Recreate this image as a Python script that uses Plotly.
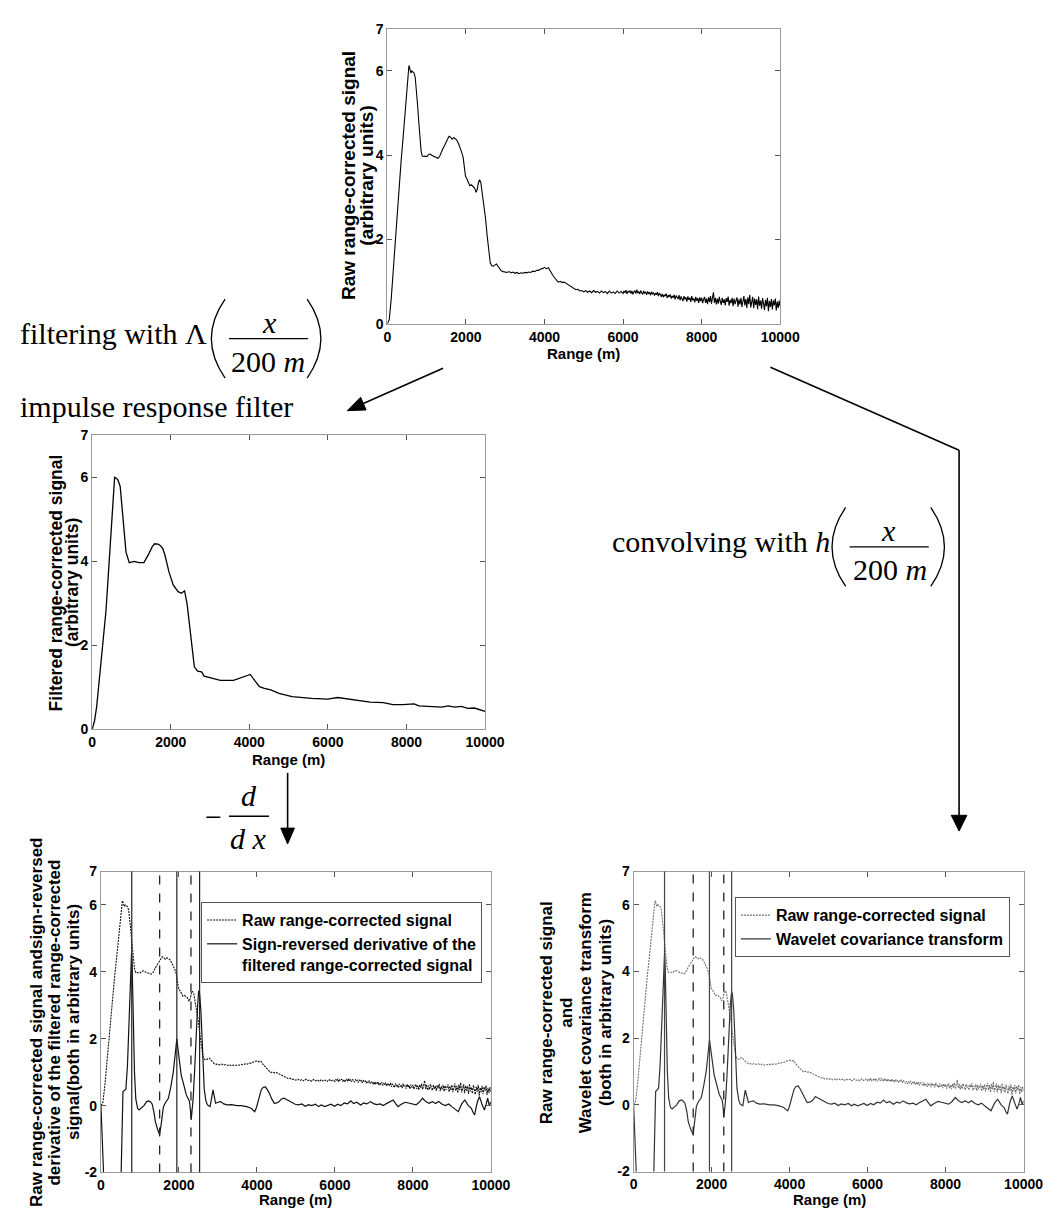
import plotly.graph_objects as go

# ---------------- data ----------------
range_ticks = [0, 2000, 4000, 6000, 8000, 10000]
range_tick_labels = ["0", "2000", "4000", "6000", "8000", "10000"]
y_ticks_top = [0, 2, 4, 6, 7]
y_tick_labels_top = ["0", "2", "4", "6", "7"]
y_ticks_bottom = [-2, 0, 2, 4, 6, 7]
y_tick_labels_bottom = ["-2", "0", "2", "4", "6", "7"]

raw_range = [
    0, 50, 100, 150, 200, 250, 300, 350, 400, 450,
    500, 530, 550, 575, 600, 625, 650, 680, 710, 740,
    770, 800, 830, 860, 890, 930, 970, 1010, 1050, 1090,
    1130, 1170, 1210, 1250, 1290, 1330, 1370, 1410, 1450, 1490,
    1530, 1570, 1610, 1650, 1690, 1730, 1770, 1810, 1850, 1890,
    1930, 1960, 1990, 2020, 2060, 2100, 2140, 2180, 2220, 2260,
    2290, 2320, 2350, 2380, 2420, 2460, 2500, 2540, 2580, 2620,
    2660, 2700, 2740, 2780, 2820, 2860, 2900, 2950, 3000, 3050,
    3100, 3150, 3200, 3250, 3300, 3350, 3400, 3450, 3500, 3550,
    3600, 3650, 3700, 3750, 3800, 3850, 3900, 3950, 4000, 4050,
    4100, 4150, 4200, 4250, 4300, 4350, 4400, 4450, 4500, 4550,
    4600, 4650, 4700, 4750, 4800, 4850, 4900, 4950, 5000, 5050,
    5100, 5150, 5200, 5250, 5300, 5350, 5400, 5450, 5500, 5550,
    5600, 5650, 5700, 5750, 5800, 5850, 5900, 5950,
    6000, 6025, 6050, 6075, 6100, 6125, 6150, 6175,
    6200, 6225, 6250, 6275, 6300, 6325, 6350, 6375,
    6400, 6425, 6450, 6475, 6500, 6525, 6550, 6575,
    6600, 6625, 6650, 6675, 6700, 6725, 6750, 6775,
    6800, 6825, 6850, 6875, 6900, 6925, 6950, 6975,
    7000, 7025, 7050, 7075, 7100, 7125, 7150, 7175,
    7200, 7225, 7250, 7275, 7300, 7325, 7350, 7375,
    7400, 7425, 7450, 7475, 7500, 7525, 7550, 7575,
    7600, 7625, 7650, 7675, 7700, 7725, 7750, 7775,
    7800, 7825, 7850, 7875, 7900, 7925, 7950, 7975,
    8000, 8025, 8050, 8075, 8100, 8125, 8150, 8175,
    8200, 8225, 8250, 8275, 8300, 8325, 8350, 8375,
    8400, 8425, 8450, 8475, 8500, 8525, 8550, 8575,
    8600, 8625, 8650, 8675, 8700, 8725, 8750, 8775,
    8800, 8825, 8850, 8875, 8900, 8925, 8950, 8975,
    9000, 9025, 9050, 9075, 9100, 9125, 9150, 9175,
    9200, 9225, 9250, 9275, 9300, 9325, 9350, 9375,
    9400, 9425, 9450, 9475, 9500, 9525, 9550, 9575,
    9600, 9625, 9650, 9675, 9700, 9725, 9750, 9775,
    9800, 9825, 9850, 9875, 9900, 9925, 9950, 9975,
    10000,
]
raw_signal = [
    0.0, 0.1, 0.6, 1.3, 2.0, 2.6, 3.3, 3.85, 4.4, 4.95,
    5.6, 5.95, 6.13, 6.05, 5.95, 6.0, 5.97, 5.95, 5.85, 5.6,
    5.2, 4.8, 4.4, 4.1, 3.98, 3.97, 3.98, 3.97, 4.02, 4.03,
    4.0, 3.98, 3.97, 3.95, 3.93, 3.97, 4.08, 4.15, 4.22, 4.3,
    4.38, 4.45, 4.43, 4.38, 4.42, 4.4, 4.36, 4.28, 4.2, 4.08,
    3.95, 3.62, 3.5, 3.45, 3.35, 3.28, 3.3, 3.25, 3.22, 3.12,
    3.2, 3.36, 3.42, 3.35, 3.1, 2.85, 2.5, 2.1, 1.7, 1.45,
    1.38, 1.37, 1.4, 1.42, 1.36, 1.3, 1.26, 1.24, 1.23, 1.22,
    1.24, 1.21, 1.23, 1.20, 1.22, 1.19, 1.21, 1.20, 1.22, 1.21,
    1.23, 1.22, 1.25, 1.24, 1.27, 1.27, 1.30, 1.31, 1.34, 1.31,
    1.33, 1.24, 1.17, 1.10, 1.04, 0.99, 1.01, 0.98, 0.99, 0.96,
    0.92, 0.90, 0.86, 0.84, 0.81, 0.82, 0.78, 0.79, 0.76, 0.79,
    0.75, 0.78, 0.74, 0.79, 0.75, 0.77, 0.73, 0.78, 0.74, 0.77,
    0.72, 0.78, 0.73, 0.76, 0.72, 0.78, 0.73, 0.77,
    0.72, 0.78, 0.74, 0.80, 0.71, 0.77, 0.75, 0.79,
    0.72, 0.78, 0.70, 0.76, 0.79, 0.72, 0.81, 0.73,
    0.77, 0.71, 0.79, 0.74, 0.70, 0.78, 0.73, 0.76,
    0.69, 0.77, 0.72, 0.75, 0.68, 0.76, 0.71, 0.74,
    0.67, 0.73, 0.69, 0.75, 0.66, 0.72, 0.70, 0.64,
    0.71, 0.63, 0.69, 0.66, 0.72, 0.61, 0.68, 0.64,
    0.70, 0.60, 0.66, 0.62, 0.69, 0.58, 0.67, 0.63,
    0.59, 0.68, 0.56, 0.65, 0.61, 0.54, 0.66, 0.58,
    0.63, 0.53, 0.65, 0.57, 0.62, 0.52, 0.66, 0.56,
    0.60, 0.51, 0.64, 0.55, 0.61, 0.50, 0.63, 0.54,
    0.62, 0.49, 0.58, 0.64, 0.50, 0.60, 0.47, 0.63,
    0.52, 0.66, 0.48, 0.59, 0.75, 0.50, 0.62, 0.46,
    0.60, 0.48, 0.64, 0.53, 0.45, 0.62, 0.50, 0.58,
    0.44, 0.61, 0.52, 0.65, 0.43, 0.57, 0.49, 0.62,
    0.42, 0.60, 0.47, 0.55, 0.63, 0.41, 0.58, 0.46,
    0.62, 0.40, 0.55, 0.66, 0.44, 0.59, 0.38, 0.63,
    0.47, 0.69, 0.39, 0.56, 0.64, 0.37, 0.60, 0.45,
    0.58, 0.35, 0.65, 0.43, 0.55, 0.36, 0.61, 0.48,
    0.33, 0.57, 0.42, 0.62, 0.30, 0.54, 0.40, 0.59,
    0.34, 0.56, 0.44, 0.60, 0.32, 0.53, 0.38, 0.55,
    0.42,
]

filtered_range = [
    0, 60, 116, 200, 282, 350, 406, 450, 489, 530,
    572, 615, 655, 713, 779, 862, 944, 1069, 1193, 1317,
    1442, 1530, 1591, 1680, 1732, 1800, 1856, 1955, 2063, 2187,
    2270, 2353, 2419, 2477, 2535, 2601, 2684, 2784, 2850, 2974,
    3264, 3596, 3844, 4026, 4134, 4258, 4383, 4548, 4756, 5087,
    5584, 5998, 6247, 6413, 6744, 7075, 7407, 7655, 7904, 8194,
    8318, 8650, 8898, 9064, 9230, 9395, 9561, 9727, 9892, 10000,
]
filtered_signal = [
    0.0, 0.2, 0.55, 1.3, 2.03, 2.8, 3.6, 4.3, 4.93, 5.6,
    6.0, 5.98, 5.94, 5.79, 5.16, 4.22, 3.97, 4.0, 3.97, 3.97,
    4.18, 4.35, 4.42, 4.41, 4.38, 4.3, 4.14, 3.75, 3.44, 3.28,
    3.24, 3.30, 2.97, 2.5, 1.88, 1.49, 1.39, 1.37, 1.27, 1.24,
    1.17, 1.17, 1.24, 1.31, 1.17, 1.02, 0.98, 0.94, 0.86, 0.78,
    0.74, 0.72, 0.76, 0.74, 0.69, 0.65, 0.64, 0.59, 0.59, 0.61,
    0.56, 0.55, 0.53, 0.56, 0.53, 0.55, 0.50, 0.51, 0.47, 0.43,
]

derivative_range = [
    0, 30, 60, 100, 200, 300, 400, 480, 520, 545,
    565, 600, 640, 680, 720, 760, 785, 800, 830, 860,
    894, 940, 977, 1040, 1103, 1170, 1228, 1280, 1312, 1360,
    1395, 1450, 1504, 1540, 1562, 1600, 1646, 1690, 1729, 1790,
    1855, 1910, 1946, 1980, 2022, 2060, 2105, 2150, 2189, 2240,
    2272, 2300, 2314, 2340, 2364, 2400, 2439, 2480, 2506, 2530,
    2565, 2600, 2648, 2690, 2732, 2799, 2840, 2874, 2910, 2941,
    3000, 3066, 3150, 3233, 3350, 3484, 3600, 3734, 3850, 3943,
    3990, 4027, 4070, 4110, 4160, 4219, 4270, 4319, 4380, 4444,
    4510, 4570, 4630, 4695, 4760, 4820, 4900, 4980, 5071, 5150,
    5240, 5320, 5405, 5500, 5580, 5650, 5739, 5820, 5900, 5990,
    6073, 6150, 6240, 6320, 6407, 6480, 6560, 6658, 6740, 6820,
    6909, 6990, 7070, 7160, 7243, 7320, 7420, 7494, 7560, 7619,
    7700, 7800, 7912, 8000, 8079, 8160, 8246, 8330, 8413, 8500,
    8580, 8663, 8750, 8830, 8920, 8997, 9080, 9164, 9250, 9332,
    9420, 9499, 9540, 9582, 9650, 9707, 9770, 9833, 9880, 9916,
    9960, 10000,
]
derivative_signal = [
    0.0, -1.0, -2.5, -5.0, -6.0, -6.0, -6.0, -4.0, -2.0, 0.0,
    0.42, 0.45, 0.5, 1.2, 2.6, 4.0, 4.57, 4.2, 2.5, 1.0,
    0.2, -0.08, -0.13, -0.05, 0.0, 0.12, 0.14, 0.1, 0.05, -0.2,
    -0.48, -0.7, -0.87, -0.6, -0.38, -0.05, 0.07, 0.15, 0.22, 0.55,
    1.0, 1.6, 2.0, 1.65, 1.2, 0.9, 0.71, 0.5, 0.32, 0.2,
    0.12, -0.2, -0.43, -0.1, 0.2, 1.0, 2.1, 3.0, 3.43, 3.35,
    2.8, 1.6, 0.5, 0.15, 0.02, -0.03, 0.3, 0.47, 0.25, 0.07,
    0.1, 0.12, 0.05, 0.02, 0.03, 0.0, 0.0, -0.03, -0.08, -0.18,
    -0.05, 0.12, 0.32, 0.47, 0.55, 0.56, 0.47, 0.37, 0.2, 0.07,
    0.08, 0.12, 0.2, 0.22, 0.18, 0.14, 0.08, 0.04, 0.02, 0.05,
    -0.02, 0.03, 0.0, 0.04, -0.03, 0.02, -0.03, 0.01, 0.04, -0.02,
    0.04, 0.0, 0.08, 0.05, 0.14, 0.06, 0.1, 0.02, 0.08, 0.05,
    0.12, 0.06, 0.03, 0.05, 0.0, 0.06, 0.12, 0.17, 0.05, -0.03,
    0.04, 0.1, 0.07, 0.04, 0.02, 0.1, 0.22, 0.12, 0.07, 0.12,
    0.06, 0.12, 0.04, 0.0, 0.05, -0.03, -0.1, -0.18, 0.05, 0.17,
    0.0, -0.08, -0.2, -0.28, 0.1, 0.27, 0.05, -0.13, 0.05, 0.22,
    0.0, 0.12,
]

wavelet_range = [
    0, 30, 60, 100, 200, 300, 400, 480, 520, 545,
    565, 600, 640, 680, 720, 760, 793, 810, 835, 865,
    900, 945, 985, 1045, 1105, 1170, 1230, 1280, 1315, 1365,
    1400, 1460, 1528, 1555, 1575, 1610, 1650, 1695, 1735, 1795,
    1860, 1915, 1945, 1980, 2025, 2065, 2110, 2155, 2195, 2245,
    2275, 2300, 2312, 2338, 2362, 2400, 2440, 2480, 2513, 2535,
    2570, 2605, 2650, 2695, 2735, 2800, 2835, 2863, 2905, 2945,
    3005, 3070, 3150, 3235, 3350, 3485, 3600, 3735, 3850, 3950,
    3995, 4030, 4075, 4115, 4165, 4224, 4275, 4320, 4385, 4450,
    4515, 4575, 4635, 4658, 4765, 4825, 4905, 4985, 5075, 5155,
    5245, 5325, 5410, 5505, 5585, 5655, 5745, 5825, 5905, 5995,
    6075, 6155, 6245, 6325, 6410, 6485, 6565, 6660, 6745, 6825,
    6910, 6995, 7075, 7165, 7245, 7325, 7425, 7495, 7565, 7620,
    7705, 7805, 7915, 8005, 8080, 8165, 8250, 8335, 8415, 8505,
    8585, 8665, 8755, 8835, 8925, 9000, 9085, 9165, 9255, 9335,
    9425, 9500, 9545, 9585, 9655, 9710, 9775, 9835, 9885, 9920,
    9965, 10000,
]
wavelet_signal = [
    0.0, -1.0, -2.5, -5.0, -6.0, -6.0, -6.0, -4.0, -2.0, 0.0,
    0.4, 0.44, 0.5, 1.2, 2.6, 4.0, 4.53, 4.15, 2.5, 1.0,
    0.2, -0.08, -0.12, -0.05, 0.0, 0.12, 0.15, 0.1, 0.05, -0.2,
    -0.5, -0.72, -0.89, -0.6, -0.38, -0.05, 0.07, 0.15, 0.22, 0.55,
    1.0, 1.6, 1.95, 1.65, 1.2, 0.9, 0.7, 0.5, 0.32, 0.2,
    0.12, -0.15, -0.37, -0.1, 0.2, 1.0, 2.1, 3.0, 3.4, 3.3,
    2.8, 1.6, 0.5, 0.15, 0.02, -0.03, 0.28, 0.44, 0.25, 0.07,
    0.1, 0.12, 0.05, 0.02, 0.03, 0.0, 0.0, -0.03, -0.08, -0.18,
    -0.05, 0.12, 0.32, 0.47, 0.55, 0.57, 0.47, 0.37, 0.2, 0.07,
    0.08, 0.12, 0.2, 0.25, 0.18, 0.14, 0.08, 0.04, 0.02, 0.05,
    -0.02, 0.03, 0.0, 0.04, -0.03, 0.02, -0.03, 0.01, 0.04, -0.02,
    0.04, 0.0, 0.08, 0.05, 0.14, 0.06, 0.1, 0.02, 0.08, 0.05,
    0.12, 0.06, 0.03, 0.05, 0.0, 0.06, 0.12, 0.17, 0.05, -0.03,
    0.04, 0.1, 0.07, 0.04, 0.02, 0.1, 0.22, 0.12, 0.07, 0.12,
    0.06, 0.12, 0.04, 0.0, 0.05, -0.03, -0.1, -0.18, 0.05, 0.17,
    0.0, -0.08, -0.2, -0.28, 0.1, 0.27, 0.05, -0.13, 0.05, 0.22,
    0.0, 0.12,
]

# detected boundaries (m)
left_solid_lines = [790, 1946, 2530]
left_dashed_lines = [1505, 2308]
right_solid_lines = [793, 1945, 2513]
right_dashed_lines = [1528, 2312]

# ---------------- layout helpers ----------------
W, H = 1061, 1209


def px(x):
    return x / W


def py(y):
    return 1 - y / H


SANS = "Liberation Sans, Arial, sans-serif"
SERIF = "Liberation Serif, Times New Roman, serif"
tickfont = dict(family=SANS, size=14, color="black", weight="bold")

fig = go.Figure()

# top: raw signal
fig.add_trace(go.Scatter(x=raw_range, y=raw_signal, mode="lines",
                         line=dict(color="black", width=1.1),
                         xaxis="x", yaxis="y", showlegend=False))
# middle: filtered
fig.add_trace(go.Scatter(x=filtered_range, y=filtered_signal, mode="lines",
                         line=dict(color="black", width=1.3),
                         xaxis="x2", yaxis="y2", showlegend=False))
# bottom-left
fig.add_trace(go.Scatter(x=raw_range, y=raw_signal, mode="lines",
                         name="Raw range-corrected signal",
                         line=dict(color="#111111", width=1.1, dash="2px,1px"),
                         xaxis="x3", yaxis="y3", legend="legend"))
fig.add_trace(go.Scatter(x=derivative_range, y=derivative_signal, mode="lines",
                         name="Sign-reversed derivative of the<br>filtered range-corrected signal",
                         line=dict(color="#111111", width=1.2),
                         xaxis="x3", yaxis="y3", legend="legend"))
# bottom-right
fig.add_trace(go.Scatter(x=raw_range, y=raw_signal, mode="lines",
                         name="Raw range-corrected signal",
                         line=dict(color="#707070", width=1.1, dash="2px,1px"),
                         xaxis="x4", yaxis="y4", legend="legend2"))
fig.add_trace(go.Scatter(x=wavelet_range, y=wavelet_signal, mode="lines",
                         name="Wavelet covariance transform",
                         line=dict(color="#333333", width=1.2),
                         xaxis="x4", yaxis="y4", legend="legend2"))

shapes = []
for v in left_solid_lines:
    shapes.append(dict(type="line", xref="x3", yref="y3 domain", x0=v, x1=v, y0=0, y1=1,
                       line=dict(color="#222222", width=1.2)))
for v in left_dashed_lines:
    shapes.append(dict(type="line", xref="x3", yref="y3 domain", x0=v, x1=v, y0=0, y1=1,
                       line=dict(color="#222222", width=1.3, dash="dash")))
for v in right_solid_lines:
    shapes.append(dict(type="line", xref="x4", yref="y4 domain", x0=v, x1=v, y0=0, y1=1,
                       line=dict(color="#444444", width=1.2)))
for v in right_dashed_lines:
    shapes.append(dict(type="line", xref="x4", yref="y4 domain", x0=v, x1=v, y0=0, y1=1,
                       line=dict(color="#222222", width=1.3, dash="dash")))


def xaxis(x0, x1, anchor):
    return dict(domain=[px(x0), px(x1)], anchor=anchor, range=[0, 10000],
                tickmode="array", tickvals=range_ticks, ticktext=range_tick_labels,
                ticks="inside", ticklen=5, tickcolor="#555", tickwidth=1,
                showline=True, linecolor="#9a9a9a", linewidth=1, mirror="ticks",
                showgrid=False, zeroline=False, tickfont=tickfont, fixedrange=True)


def yaxis(y_top, y_bot, anchor, rng, vals, labels):
    return dict(domain=[py(y_bot), py(y_top)], anchor=anchor, range=rng,
                tickmode="array", tickvals=vals, ticktext=labels,
                ticks="inside", ticklen=5, tickcolor="#555", tickwidth=1,
                showline=True, linecolor="#9a9a9a", linewidth=1, mirror="ticks",
                showgrid=False, zeroline=False, tickfont=tickfont, fixedrange=True)


# ---------------- decorations (arrows, formulas) ----------------
def seg(x0, y0, x1, y1, w=1.6, color="black"):
    shapes.append(dict(type="line", xref="paper", yref="paper",
                       x0=px(x0), y0=py(y0), x1=px(x1), y1=py(y1),
                       line=dict(color=color, width=w)))


def head(xb, yb, xt, yt, half=7):
    dx, dy = xt - xb, yt - yb
    L = (dx * dx + dy * dy) ** 0.5
    nx, ny = -dy / L * half, dx / L * half
    p = "M {:.5f},{:.5f} L {:.5f},{:.5f} L {:.5f},{:.5f} Z".format(
        px(xt), py(yt), px(xb + nx), py(yb + ny), px(xb - nx), py(yb - ny))
    shapes.append(dict(type="path", xref="paper", yref="paper", path=p,
                       fillcolor="black", line=dict(color="black", width=1)))


def arrow(points, hl=16, half=7):
    for (a, b), (c, d) in zip(points[:-2], points[1:-1]):
        seg(a, b, c, d)
    (a, b), (c, d) = points[-2], points[-1]
    L = ((c - a) ** 2 + (d - b) ** 2) ** 0.5
    xb, yb = c - (c - a) / L * hl, d - (d - b) / L * hl
    seg(a, b, xb, yb)
    head(xb, yb, c, d, half)


def paren(x_end, x_ctrl, y0, y1, w=1.3):
    p = "M {:.5f},{:.5f} Q {:.5f},{:.5f} {:.5f},{:.5f}".format(
        px(x_end), py(y0), px(x_ctrl), py((y0 + y1) / 2), px(x_end), py(y1))
    shapes.append(dict(type="path", xref="paper", yref="paper", path=p,
                       line=dict(color="black", width=w)))


arrow([(441, 357), (343, 400)], hl=18, half=7)
arrow([(776, 356), (969, 440), (969, 826)], hl=16, half=8)
arrow([(282, 767), (282, 839)], hl=16, half=7)

# fraction bars and parentheses
seg(222, 327, 303, 327, w=1.3)
paren(218, 190, 287, 367)
paren(302, 330, 287, 367)
seg(857, 538, 938, 538, w=1.3)
paren(853, 825, 498, 578)
paren(940, 968, 498, 578)
seg(222, 811, 263, 811, w=1.3)

annotations = []


def text(t, x, y, size, family=SANS, xanchor="center", angle=0, weight="normal"):
    annotations.append(dict(text=t, x=px(x), y=py(y), xref="paper", yref="paper",
                            showarrow=False, xanchor=xanchor, yanchor="middle",
                            textangle=angle,
                            font=dict(family=family, size=size, color="black", weight=weight)))


# formula texts
text("filtering with \u039b", 6, 322, 30, SERIF, "left")
text("<i>x</i>", 263, 311, 30, SERIF)
text("200 <i>m</i>", 262, 350, 30, SERIF)
text("impulse response filter", 6, 396, 30, SERIF, "left")
text("convolving with <i>h</i>", 612, 533, 30, SERIF, "left")
text("<i>x</i>", 897, 521, 30, SERIF)
text("200 <i>m</i>", 898, 561, 30, SERIF)
text("\u2212", 206, 811, 30, SERIF)
text("<i>d</i>", 242, 790, 30, SERIF)
text("<i>d x</i>", 242, 834, 30, SERIF)

# x-axis titles
text("Range (m)", 585, 342, 15, weight="bold")
text("Range (m)", 283, 753, 15, weight="bold")
text("Range (m)", 290, 1199.5, 15, weight="bold")
text("Range (m)", 836, 1199.5, 15, weight="bold")

# y-axis titles (one annotation per line)
text("Raw range-corrected signal", 345, 162, 19, angle=-90, weight="bold")
text("(arbitrary units)", 363, 162, 19, angle=-90, weight="bold")
text("Filtered range-corrected signal", 45, 574, 17.5, angle=-90, weight="bold")
text("(arbitrary units)", 62, 574, 17.5, angle=-90, weight="bold")
text("Raw range-corrected signal andsign-reversed", 25, 1020, 17, angle=-90, weight="bold")
text("derivative of the filtered range-corrected", 43, 1020, 17, angle=-90, weight="bold")
text("signal(both in arbitrary units)", 63, 1020, 17, angle=-90, weight="bold")
text("Raw range-corrected signal", 547, 1010, 17, angle=-90, weight="bold")
text("and", 567, 1010, 17, angle=-90, weight="bold")
text("Wavelet covariance transform", 587, 1010, 17, angle=-90, weight="bold")
text("(both in arbitrary units)", 607, 1010, 17, angle=-90, weight="bold")

legend_font = dict(family=SANS, size=16, color="black", weight="bold")

fig.update_layout(
    width=W, height=H, autosize=False,
    margin=dict(l=0, r=0, t=0, b=0),
    paper_bgcolor="white", plot_bgcolor="white",
    xaxis=xaxis(384, 786, "y"),
    yaxis=yaxis(13, 312, "x", [0, 7], y_ticks_top, y_tick_labels_top),
    xaxis2=xaxis(82, 484, "y2"),
    yaxis2=yaxis(425, 723, "x2", [0, 7], y_ticks_top, y_tick_labels_top),
    xaxis3=xaxis(91, 490, "y3"),
    yaxis3=yaxis(867, 1172, "x3", [-2, 7], y_ticks_bottom, y_tick_labels_bottom),
    xaxis4=xaxis(636, 1035, "y4"),
    yaxis4=yaxis(867, 1171, "x4", [-2, 7], y_ticks_bottom, y_tick_labels_bottom),
    legend=dict(x=px(481), xanchor="right", y=py(898), yanchor="top",
                bgcolor="white", bordercolor="#555", borderwidth=1,
                font=legend_font, tracegroupgap=0, itemwidth=30, valign="top"),
    legend2=dict(x=px(1021), xanchor="right", y=py(893), yanchor="top",
                 bgcolor="white", bordercolor="#555", borderwidth=1,
                 font=legend_font, tracegroupgap=0, itemwidth=30),
    shapes=shapes,
    annotations=annotations,
)

fig.write_html("out.html")
